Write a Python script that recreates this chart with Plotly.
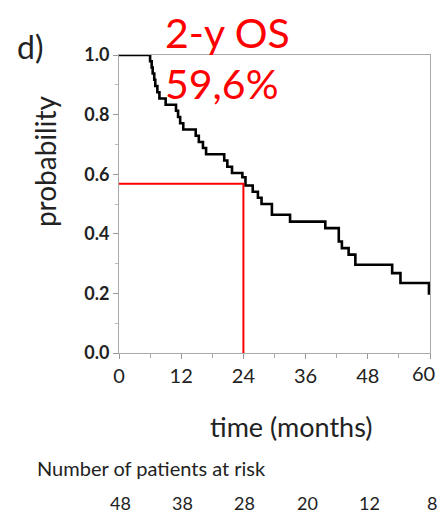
import plotly.graph_objects as go

# Kaplan-Meier overall survival (step function)
months = [0, 6.0, 6.3, 6.5, 6.8, 7.0, 7.4, 7.8, 9.0, 11.0, 11.4, 11.8, 12.4, 14.8, 15.4,
          16.2, 16.8, 20.3, 20.9, 21.8, 23.8, 24.4, 25.8, 26.8, 27.5, 29.5, 33.0, 39.8,
          42.4, 43.0, 44.3, 45.6, 52.7, 54.3, 59.8, 60.0]
survival = [1.0, 0.979, 0.958, 0.938, 0.917, 0.896, 0.875, 0.854, 0.833, 0.813, 0.792, 0.771,
            0.750, 0.729, 0.708, 0.688, 0.667, 0.646, 0.625, 0.604, 0.590, 0.562, 0.541, 0.521,
            0.500, 0.464, 0.441, 0.419, 0.374, 0.352, 0.330, 0.296, 0.268, 0.235, 0.200, 0.200]

# 2-year OS marker
marker_month = 24
marker_surv = 0.568

x_ticks = [0, 12, 24, 36, 48, 60]
x_tick_labels = ["0", "12", "24", "36", "48", "60"]
x_max = 60
y_ticks = [0.0, 0.2, 0.4, 0.6, 0.8, 1.0]
y_tick_labels = ["0.0", "0.2", "0.4", "0.6", "0.8", "1.0"]

risk_months = [0, 12, 24, 36, 48, 60]
at_risk = [48, 38, 28, 20, 12, 8]

FONT = "Lato"
TXT = "#222222"

fig = go.Figure()
fig.add_trace(go.Scatter(x=months, y=survival, mode="lines", line_shape="hv",
                         line=dict(color="black", width=2.6), showlegend=False, hoverinfo="skip"))
fig.add_trace(go.Scatter(x=[0, marker_month, marker_month], y=[marker_surv, marker_surv, 0],
                         mode="lines", line=dict(color="#ff0000", width=2), showlegend=False,
                         hoverinfo="skip"))

# last x tick label sits at the right window edge: draw it right-anchored so it stays visible
shown_x_labels = x_tick_labels[:-1] + [""]

fig.update_layout(
    width=438, height=514,
    margin=dict(l=119, r=8, t=55, b=161, autoexpand=False),
    paper_bgcolor="white", plot_bgcolor="white",
    font=dict(family=FONT, color=TXT),
    xaxis=dict(range=[0, x_max], tickvals=x_ticks, ticktext=shown_x_labels, ticks="outside",
               ticklen=5, tickcolor="#999",
               showline=True, linecolor="#aaa", linewidth=1, mirror=True, showgrid=False,
               zeroline=False, tickfont=dict(size=20, family=FONT, color=TXT),
               ticklabeloverflow="allow", automargin=False,
               minor=dict(dtick=6, ticks="outside", ticklen=4, tickcolor="#aaa")),
    yaxis=dict(range=[0, 1], tickvals=y_ticks, ticktext=y_tick_labels, ticks="outside", ticklen=5,
               tickcolor="#999", showline=True, linecolor="#aaa", linewidth=1, mirror=True,
               showgrid=False, zeroline=False, automargin=False,
               tickfont=dict(size=18, family=FONT, color=TXT, weight="bold"),
               minor=dict(dtick=0.1, ticks="outside", ticklen=3, tickcolor="#bbb")),
)

fig.add_annotation(text=x_tick_labels[-1], xref="x domain", yref="paper", x=1.022, y=-0.068,
                   xanchor="right", yanchor="middle", showarrow=False,
                   font=dict(size=20, family=FONT, color=TXT))
fig.add_annotation(text="d)", xref="paper", yref="paper", x=-0.334, y=1.03, xanchor="left",
                   yanchor="middle", showarrow=False, font=dict(size=32, color=TXT, family=FONT))
fig.add_annotation(text="2-y OS", xref="x", yref="paper", x=8.5, y=1.074, xanchor="left",
                   yanchor="middle", showarrow=False, font=dict(size=41, color="#ff0000", family=FONT))
fig.add_annotation(text="59,6%", xref="x", yref="paper", x=8.5, y=0.906, xanchor="left",
                   yanchor="middle", showarrow=False, font=dict(size=41, color="#ff0000", family=FONT))
fig.add_annotation(text="probability", xref="paper", yref="paper", x=-0.238, y=0.644,
                   xanchor="center", yanchor="middle", textangle=-90, showarrow=False,
                   font=dict(size=28, color=TXT, family=FONT))
fig.add_annotation(text="time (months)", xref="x", yref="paper", x=33.2, y=-0.245,
                   xanchor="center", yanchor="middle", showarrow=False,
                   font=dict(size=27, color=TXT, family=FONT))
fig.add_annotation(text="Number of patients at risk", xref="paper", yref="paper", x=-0.27, y=-0.386,
                   xanchor="left", yanchor="middle", showarrow=False,
                   font=dict(size=20, color=TXT, family=FONT))
for m, n in zip(risk_months, at_risk):
    fig.add_annotation(text=str(n), xref="x domain", yref="paper", x=(m + 0.3) / x_max, y=-0.503,
                       xanchor="center", yanchor="middle", showarrow=False,
                       font=dict(size=18, color=TXT, family=FONT))

fig.write_html("out.html", config={"displayModeBar": False},
               post_script="document.body.style.margin='0';document.body.style.overflow='hidden';")
